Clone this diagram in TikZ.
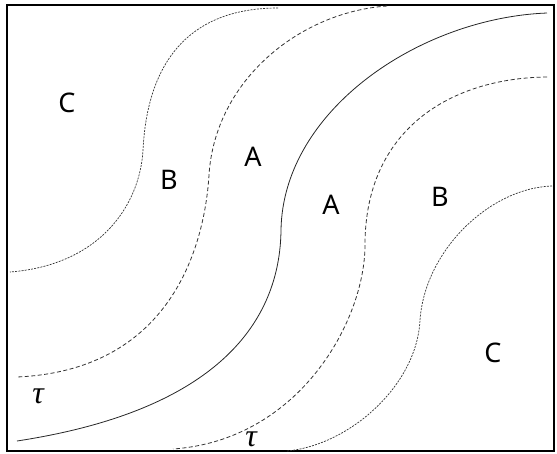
\documentclass[tikz,border=0pt]{standalone}
\usepackage{fontspec}
\setmainfont{Noto Sans}
\newfontfamily\taufont{Liberation Serif}
\begin{document}
\begin{tikzpicture}[x=1pt,y=-1pt,
  lbl/.style={font=\fontsize{27}{30}\selectfont, inner sep=0pt},
  tau/.style={font=\taufont\itshape\fontsize{32}{34}\selectfont, inner sep=0pt},
  fine/.style={line width=0.7pt, dash pattern=on 2pt off 1.2pt, black!80},
  coarse/.style={line width=0.8pt, dash pattern=on 4pt off 2.5pt, black!80},
  solidc/.style={line width=0.8pt, black!85}]
\useasboundingbox (0,0) rectangle (557,453);
\draw[line width=1.3pt] (7,5) rectangle (554,451);
% curve 1 (C/B left)
\draw[fine] (278,8) .. controls (200,8) and (148,50) .. (143,150)
  .. controls (140,205) and (100,265) .. (10,272);
% curve 2 (B/A left)
\draw[coarse] (387,6) .. controls (300,12) and (215,80) .. (209,175)
  .. controls (205,240) and (175,370) .. (17,377);
% solid (A/A)
\draw[solidc] (547,13) .. controls (420,18) and (283,110) .. (281,230)
  .. controls (280,320) and (220,410) .. (17,441);
% curve 4 (A/B right)
\draw[coarse] (547,77) .. controls (450,78) and (365,130) .. (365,245)
  .. controls (365,320) and (300,440) .. (173,449);
% curve 5 (B/C right)
\draw[fine] (552,186) .. controls (490,188) and (425,250) .. (420,320)
  .. controls (417,385) and (350,445) .. (287,451);
\node[lbl] (c1) at (67,103) {C};
\node[lbl] (b1) at (169,180) {B};
\node[lbl] (a1) at (253,157) {A};
\node[lbl] (a2) at (331,205) {A};
\node[lbl] (b2) at (440,197) {B};
\node[lbl] (c2) at (493,353) {C};
\node[tau] (t1) at (38,396) {τ};
\node[tau] (t2) at (251,439) {τ};
\end{tikzpicture}
\end{document}
